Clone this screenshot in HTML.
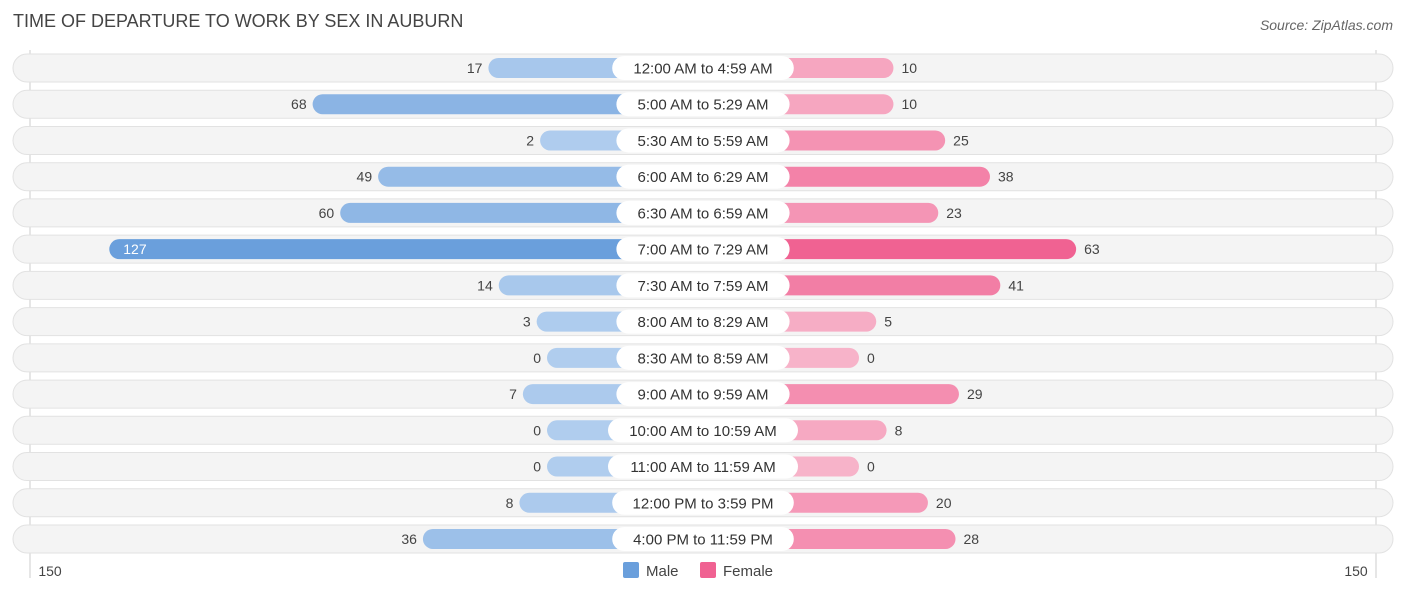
<!DOCTYPE html>
<html><head><meta charset="utf-8"><style>
body{margin:0;background:#fff;font-family:"Liberation Sans",sans-serif;}
svg text{font-family:"Liberation Sans",sans-serif;}
</style></head><body>
<svg id="c" width="1406" height="595" xmlns="http://www.w3.org/2000/svg">
<text x="13" y="27" font-size="18" fill="#444">TIME OF DEPARTURE TO WORK BY SEX IN AUBURN</text>
<text x="1393" y="30" font-size="14" fill="#666" font-style="italic" text-anchor="end">Source: ZipAtlas.com</text>
<line x1="30" y1="50" x2="30" y2="578" stroke="#ccc"/>
<line x1="1376" y1="50" x2="1376" y2="578" stroke="#ccc"/>
<g id="rows"></g>
<text x="50" y="576" font-size="14" fill="#444" text-anchor="middle">150</text>
<text x="1356" y="576" font-size="14" fill="#444" text-anchor="middle">150</text>
<g>
<rect x="623" y="562" width="16" height="16" rx="2" fill="#6a9fdc"/>
<text x="646" y="576" font-size="15" fill="#444">Male</text>
<rect x="700" y="562" width="16" height="16" rx="2" fill="#f06292"/>
<text x="723" y="576" font-size="15" fill="#444">Female</text>
</g>
</svg>
<script>
const categories=["12:00 AM to 4:59 AM","5:00 AM to 5:29 AM","5:30 AM to 5:59 AM","6:00 AM to 6:29 AM","6:30 AM to 6:59 AM","7:00 AM to 7:29 AM","7:30 AM to 7:59 AM","8:00 AM to 8:29 AM","8:30 AM to 8:59 AM","9:00 AM to 9:59 AM","10:00 AM to 10:59 AM","11:00 AM to 11:59 AM","12:00 PM to 3:59 PM","4:00 PM to 11:59 PM"];
const maleValues=[17,68,2,49,60,127,14,3,0,7,0,0,8,36];
const femaleValues=[10,10,25,38,23,63,41,5,0,29,8,0,20,28];
const axisMax=150;
const NS="http://www.w3.org/2000/svg";
const cx=703,minW=156,k=(703-30-156)/axisMax;
const y0=68,dy=36.23;
function xMale(v){return cx-minW-v*k;}
function xFemale(v){return cx+minW+v*k;}
function mix(a,b,t){const p=s=>[1,3,5].map(i=>parseInt(s.substr(i,2),16));const A=p(a),B=p(b);return "rgb("+A.map((x,i)=>Math.round(x+(B[i]-x)*t)).join(",")+")";}
const g=document.getElementById("rows");
function el(tag,attrs,parent){const e=document.createElementNS(NS,tag);for(const a in attrs)e.setAttribute(a,attrs[a]);(parent||g).appendChild(e);return e;}
const mmax=Math.max(...maleValues),fmax=Math.max(...femaleValues);
categories.forEach((c,i)=>{
  const y=y0+i*dy;
  const row=el("g",{});
  
  
  const bg=el("rect",{x:13,y:y-14,width:1380,height:28,rx:14,fill:"#f4f4f4",stroke:"#e2e2e2"},row);
  
  
  const mv=maleValues[i],fv=femaleValues[i];
  const mx=xMale(mv);
  const mb=el("rect",{x:mx,y:y-10,width:cx-mx,height:20,rx:10,fill:mix("#b0cdee","#6a9fdc",mv/mmax)},row);
  
  
  const fx=xFemale(fv);
  const fb=el("rect",{x:cx,y:y-10,width:fx-cx,height:20,rx:10,fill:mix("#f7b3c9","#f06292",fv/fmax)},row);
  
  
  const inside=mv>100;
  const mt=el("text",{x:inside?mx+14:mx-6,y:y+5,"font-size":14,fill:inside?"#fff":"#444","text-anchor":inside?"start":"end"},row);
  mt.textContent=mv;
  
  
  const ft=el("text",{x:fx+8,y:y+5,"font-size":14,fill:"#444"},row);
  ft.textContent=fv;
  
  
  const w=c.length*8.4+22;
  const lb=el("rect",{x:cx-w/2,y:y-12,width:w,height:24,rx:12,fill:"#fff"},row);
  
  
  const lt=el("text",{x:cx,y:y+5.5,"font-size":15,fill:"#333","text-anchor":"middle"},row);
  lt.textContent=c;
  
  
});
</script>
</body></html>
